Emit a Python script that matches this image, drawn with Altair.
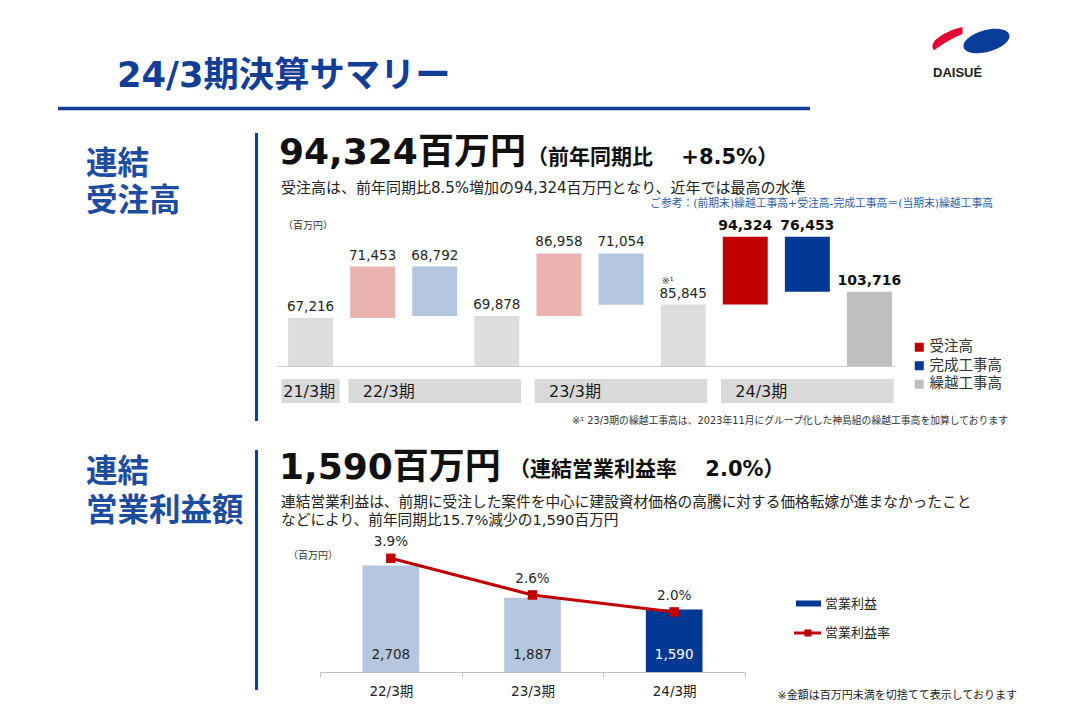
import altair as alt
import pandas as pd

FONT = "DejaVu Sans, Noto Sans CJK JP"
NAVY = "#123E96"
LABEL_NAVY = "#1E4C9E"

# ---------------- data ----------------
wf_periods = ["21/3期", "22/3期", "23/3期", "24/3期"]
carry_opening = 67216
orders = [71453, 86958, 94324]
completed = [68792, 71054, 76453]
carry = [69878, 85845, 103716]
carry_notes = ["", "※¹", ""]
kinds = ["受注高", "完成工事高", "繰越工事高"]

pf_periods = ["22/3期", "23/3期", "24/3期"]
op_profit = [2708, 1887, 1590]
op_margin = [3.9, 2.6, 2.0]

orders_yoy = 8.5
profit_yoy = 15.7

latest = wf_periods[-1]

# waterfall table (derived from the lists above)
rows = [dict(idx=0, period=wf_periods[0], kind=kinds[2], lo=0, hi=carry_opening,
             value=carry_opening, note="")]
prev = carry_opening
idx = 1
for i in range(len(orders)):
    p = wf_periods[i + 1]
    top = prev + orders[i]
    rows.append(dict(idx=idx, period=p, kind=kinds[0], lo=prev, hi=top, value=orders[i], note=""))
    idx += 1
    rows.append(dict(idx=idx, period=p, kind=kinds[1], lo=top - completed[i], hi=top,
                     value=completed[i], note=""))
    idx += 1
    rows.append(dict(idx=idx, period=p, kind=kinds[2], lo=0, hi=carry[i], value=carry[i],
                     note=carry_notes[i]))
    idx += 1
    prev = carry[i]
wf_df = pd.DataFrame(rows)

pf_df = pd.DataFrame({"period": pf_periods, "profit": op_profit, "margin": op_margin})

ONE = alt.Data(values=[{"a": 1}])
OFF = 8  # page margin


def txt(s, x, y, size, color="#222222", weight="normal", align="left", font=FONT):
    return alt.Chart(ONE).mark_text(
        text=s, fontSize=size, fontWeight=weight, color=color, align=align,
        baseline="middle", font=font
    ).encode(x=alt.value(x - OFF), y=alt.value(y - OFF))


def hrule(x1, x2, y, color, w):
    return alt.Chart(ONE).mark_rule(color=color, strokeWidth=w).encode(
        x=alt.value(x1 - OFF), x2=alt.value(x2 - OFF), y=alt.value(y - OFF))


def vrule(x, y1, y2, color, w):
    return alt.Chart(ONE).mark_rule(color=color, strokeWidth=w).encode(
        x=alt.value(x - OFF), y=alt.value(y1 - OFF), y2=alt.value(y2 - OFF))


# ---------------- decorations ----------------
blue_blob = "M-1,0A1,0.46,0,1,1,1,0A1,0.46,0,1,1,-1,0Z"
red_leaf = "M-14,11C-6,5,4,-1,14,-5L14,-12C4,-10,-6,-5,-12,0C-17,4,-17,10,-14,11Z"

decor = [
    txt("24/3期決算サマリー", 117, 76, 35.3, NAVY, "bold"),
    hrule(58, 810, 108.5, NAVY, 3.5),
    alt.Chart(ONE).mark_point(shape=blue_blob, size=2250, filled=True, color="#0A3C9C",
                              opacity=1, angle=345).encode(
        x=alt.value(986.5 - OFF), y=alt.value(41 - OFF)),
    alt.Chart(ONE).mark_point(shape=red_leaf, size=4, filled=True, color="#E50034",
                              opacity=1).encode(
        x=alt.value(948.5 - OFF), y=alt.value(39 - OFF)),
    txt("DAISUÉ", 933, 73, 13, "#222222", "bold", font="Liberation Sans"),

    txt("連結", 86, 165, 31.5, LABEL_NAVY, "bold"),
    txt("受注高", 86, 202, 31.5, LABEL_NAVY, "bold"),
    vrule(256.5, 133, 421, NAVY, 3),
    txt(f"{orders[-1]:,}百万円", 279, 153, 36, "#111111", "bold"),
    txt(f"（前年同期比　 +{orders_yoy}%）", 527, 158, 21, "#111111", "bold"),
    txt(f"受注高は、前年同期比{orders_yoy}%増加の{orders[-1]:,}百万円となり、近年では最高の水準",
        281, 188, 15, "#222222"),
    txt("ご参考：(前期末)繰越工事高+受注高-完成工事高＝(当期末)繰越工事高", 993, 204, 10.8,
        "#2E5DAA", align="right"),
    txt("（百万円）", 283, 226, 10, "#333333"),
    txt("※¹ 23/3期の繰越工事高は、2023年11月にグループ化した神島組の繰越工事高を加算しております",
        1008, 421, 9.8, "#333333", align="right"),

    txt("連結", 86, 473, 31.5, LABEL_NAVY, "bold"),
    txt("営業利益額", 86, 512, 31.5, LABEL_NAVY, "bold"),
    vrule(256.5, 450, 690, NAVY, 3),
    txt(f"{op_profit[-1]:,}百万円", 279, 468, 36, "#111111", "bold"),
    txt(f"（連結営業利益率　 {op_margin[-1]:.1f}%）", 509, 470, 21, "#111111", "bold"),
    txt("連結営業利益は、前期に受注した案件を中心に建設資材価格の高騰に対する価格転嫁が進まなかったこと",
        281, 503, 14.7, "#222222"),
    txt(f"などにより、前年同期比{profit_yoy}%減少の{op_profit[-1]:,}百万円", 281, 521, 14.7, "#222222"),
    txt("（百万円）", 288, 556, 10, "#333333"),
    txt("※金額は百万円未満を切捨てて表示しております", 1017, 696, 11, "#222222", align="right"),

    # legend of the profit chart
    alt.Chart(ONE).mark_rect(color="#003893").encode(
        x=alt.value(796 - OFF), x2=alt.value(821 - OFF),
        y=alt.value(600.5 - OFF), y2=alt.value(606.5 - OFF)),
    txt("営業利益", 825, 604, 13, "#222222"),
    hrule(794, 821, 633, "#C00000", 3),
    alt.Chart(ONE).mark_square(size=49, color="#C00000", opacity=1).encode(
        x=alt.value(808 - OFF), y=alt.value(633 - OFF)),
    txt("営業利益率", 825, 633, 13, "#222222"),
]

# ---------------- waterfall ----------------
wf_x = alt.Scale(domain=[-0.5, 9.5], range=[271.5, 892.5], nice=False, zero=False)
wf_y = alt.Scale(domain=[0, 200000], range=[358.4, 214.4], nice=False, zero=False)

ckeys = kinds + [k + "（前期）" for k in kinds]
wf_color = alt.Color(
    "ckey:N",
    scale=alt.Scale(domain=ckeys,
                    range=["#C00000", "#003893", "#BFBFBF", "#EBB2B2", "#B4C6E0", "#DDDDDD"]),
    legend=alt.Legend(orient="none", legendX=904, legendY=332, title=None, values=kinds,
                      symbolType="square", symbolSize=81, symbolStrokeWidth=0,
                      labelFontSize=14.5, labelFont=FONT, labelColor="#333333",
                      rowPadding=3.5, labelOffset=3, padding=0),
)

base_wf = alt.Chart(wf_df).transform_calculate(
    x0="datum.idx - 0.362", x1="datum.idx + 0.362",
    ckey=f"datum.period == '{latest}' ? datum.kind : datum.kind + '（前期）'",
)

groups = alt.Chart(wf_df).transform_aggregate(
    first="min(idx)", last="max(idx)", groupby=["period"]
).transform_calculate(
    pad="datum.first == datum.last ? 0.47 : 0.39",
    bx0="datum.first - datum.pad",
    bx1="datum.last + datum.pad",
    lx="datum.first == datum.last ? datum.first - 0.44 : datum.first - 0.16",
)

boxes = groups.mark_rect(color="#D9D9D9").encode(
    x=alt.X("bx0:Q", scale=wf_x, axis=None), x2="bx1:Q",
    y=alt.value(371), y2=alt.value(395))
box_labels = groups.mark_text(align="left", baseline="middle", fontSize=16, font=FONT,
                              color="#1A1A1A").encode(
    x=alt.X("lx:Q", scale=wf_x, axis=None), y=alt.value(383.5), text="period:N")

bars = base_wf.mark_bar().encode(
    x=alt.X("x0:Q", scale=wf_x, axis=None), x2="x1:Q",
    y=alt.Y("lo:Q", scale=wf_y, axis=None), y2="hi:Q",
    color=wf_color)

baseline = alt.Chart(ONE).mark_rule(color="#C8C8C8", strokeWidth=1).encode(
    x=alt.XDatum(-0.54, scale=wf_x, axis=None), x2=alt.X2Datum(9.41),
    y=alt.YDatum(0, scale=wf_y, axis=None))

labels_past = base_wf.transform_filter(f"datum.period != '{latest}'").mark_text(
    baseline="bottom", dy=-4, fontSize=13.5, font=FONT, color="#262626").encode(
    x=alt.X("idx:Q", scale=wf_x, axis=None), y=alt.Y("hi:Q", scale=wf_y, axis=None),
    text=alt.Text("value:Q", format=","))
labels_now = base_wf.transform_filter(f"datum.period == '{latest}'").mark_text(
    baseline="bottom", dy=-4, fontSize=14, fontWeight="bold", font=FONT, color="#111111").encode(
    x=alt.X("idx:Q", scale=wf_x, axis=None), y=alt.Y("hi:Q", scale=wf_y, axis=None),
    text=alt.Text("value:Q", format=","))
notes = base_wf.transform_filter("datum.note != ''").mark_text(
    align="left", baseline="bottom", dy=-19, dx=1, fontSize=9.5, font=FONT, color="#333333").encode(
    x=alt.X("x0:Q", scale=wf_x, axis=None), y=alt.Y("hi:Q", scale=wf_y, axis=None),
    text="note:N")

wf = alt.layer(boxes, box_labels, bars, baseline, labels_past, labels_now, notes)

# ---------------- operating profit ----------------
pf_axis = alt.Axis(orient="bottom", title=None, labelAngle=0, tickBand="extent",
                   domainColor="#BFBFBF", tickColor="#BFBFBF", tickSize=5, domainWidth=1,
                   labelFontSize=13.5, labelFont=FONT, labelColor="#222222", labelPadding=7,
                   grid=False)
pf_x = alt.X("period:N", scale=alt.Scale(domain=pf_periods, range=[312, 737],
                                         paddingInner=0, paddingOuter=0), axis=pf_axis)
amt_scale = alt.Scale(domain=[0, 3000], range=[664, 546.1], nice=False, zero=False)
rate_scale = alt.Scale(domain=[0, 5], range=[660.3, 519.3], nice=False, zero=False)

is_now = alt.datum.period == latest

pf_bars = alt.Chart(pf_df).mark_bar(width=alt.RelativeBandSize(0.4)).encode(
    x=pf_x, y=alt.Y("profit:Q", scale=amt_scale, axis=None),
    color=alt.when(is_now).then(alt.value("#003893")).otherwise(alt.value("#B4C6E0")))
pf_vals = alt.Chart(pf_df).mark_text(baseline="middle", dy=-17, fontSize=13.5, font=FONT).encode(
    x=pf_x, y=alt.YDatum(0, scale=amt_scale, axis=None),
    text=alt.Text("profit:Q", format=","),
    color=alt.when(is_now).then(alt.value("white")).otherwise(alt.value("#262626")))
amount_layer = alt.layer(pf_bars, pf_vals)

rate_y = alt.Y("margin:Q", scale=rate_scale, axis=None)
pf_line = alt.Chart(pf_df).mark_line(color="#C00000", strokeWidth=3).encode(x=pf_x, y=rate_y)
pf_pts = alt.Chart(pf_df).mark_square(size=90, color="#C00000", opacity=1).encode(x=pf_x, y=rate_y)
pf_rl = alt.Chart(pf_df).transform_calculate(
    rl="format(datum.margin, '.1f') + '%'"
).mark_text(baseline="middle", dy=-16, fontSize=13.5, font=FONT, color="#262626").encode(
    x=pf_x, y=rate_y, text="rl:N")
rate_layer = alt.layer(pf_line, pf_pts, pf_rl)

pf = alt.layer(amount_layer, rate_layer).resolve_scale(y="independent")

chart = alt.layer(*decor, wf, pf).resolve_scale(
    x="independent", y="independent"
).properties(
    width=1064, height=664,
    padding={"left": 0, "top": 0, "right": 0, "bottom": 40},
    autosize=alt.AutoSizeParams(type="none"),
    background="white",
).configure_view(stroke=None)

chart.save("out.html", embed_options={"renderer": "svg", "actions": False})
